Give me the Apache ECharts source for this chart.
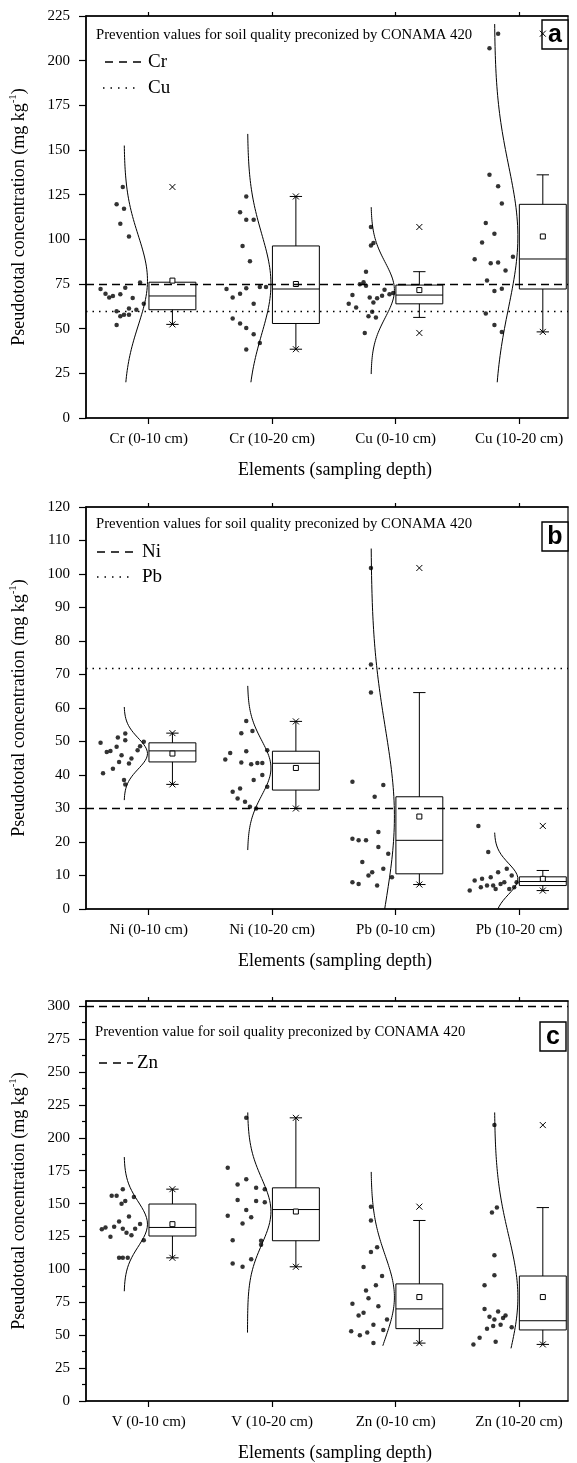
<!DOCTYPE html>
<html>
<head>
<meta charset="utf-8">
<title>Pseudototal concentrations</title>
<script src="https://cdn.jsdelivr.net/npm/echarts@6.0.0/dist/echarts.min.js"></script>
<style>
html, body { margin: 0; padding: 0; background: #fff; }
#chart { width: 577px; height: 1463px; }
</style>
</head>
<body>
<div id="chart"></div>
<script>
// categories
const catsA = ["Cr (0-10 cm)", "Cr (10-20 cm)", "Cu (0-10 cm)", "Cu (10-20 cm)"];
const catsB = ["Ni (0-10 cm)", "Ni (10-20 cm)", "Pb (0-10 cm)", "Pb (10-20 cm)"];
const catsC = ["V (0-10 cm)", "V (10-20 cm)", "Zn (0-10 cm)", "Zn (10-20 cm)"];

// y tick labels
const ticksA = [0, 25, 50, 75, 100, 125, 150, 175, 200, 225];
const ticksB = [0, 10, 20, 30, 40, 50, 60, 70, 80, 90, 100, 110, 120];
const ticksC = [0, 25, 50, 75, 100, 125, 150, 175, 200, 225, 250, 275, 300];
const minorC = [12.5, 37.5, 62.5, 87.5, 112.5, 137.5, 162.5, 187.5, 212.5, 237.5, 262.5, 287.5];

// samples (mg/kg), one list per group
const valsA = [
	[129.3, 119.6, 117.1, 108.7, 101.6, 72.2, 69.6, 67.5, 68.3, 69.2, 72.9, 67.1, 75.9, 63.9, 59.8, 60.6, 61.3, 57.0, 57.8, 57.8, 52.0],
	[124.0, 115.1, 111.0, 111.0, 96.3, 87.8, 72.2, 67.5, 69.6, 72.6, 73.3, 73.3, 63.9, 55.7, 52.9, 50.4, 46.9, 42.0, 38.3],
	[106.9, 97.9, 96.5, 81.9, 76.0, 74.8, 74.0, 68.8, 63.9, 61.9, 67.5, 64.7, 67.0, 68.4, 71.8, 69.2, 69.9, 57.0, 59.4, 56.3, 47.6],
	[215.1, 206.9, 136.1, 129.7, 120.1, 109.1, 103.1, 98.2, 88.9, 86.6, 87.0, 90.3, 82.5, 76.9, 71.1, 72.4, 58.5, 52.0, 48.2]
];
// horizontal jitter of the dots (category units, relative to the tick)
const jitA = [
	[-0.21, -0.26, -0.20, -0.23, -0.16, -0.39, -0.35, -0.32, -0.29, -0.23, -0.19, -0.13, -0.07, -0.04, -0.26, -0.10, -0.16, -0.23, -0.20, -0.16, -0.26],
	[-0.21, -0.26, -0.21, -0.15, -0.24, -0.18, -0.37, -0.32, -0.26, -0.21, -0.10, -0.05, -0.15, -0.32, -0.26, -0.21, -0.15, -0.10, -0.21],
	[-0.20, -0.18, -0.20, -0.24, -0.26, -0.29, -0.24, -0.35, -0.38, -0.32, -0.21, -0.18, -0.15, -0.11, -0.09, -0.05, -0.02, -0.22, -0.19, -0.16, -0.25],
	[-0.17, -0.24, -0.24, -0.17, -0.14, -0.27, -0.20, -0.30, -0.36, -0.23, -0.17, -0.05, -0.11, -0.26, -0.20, -0.14, -0.27, -0.20, -0.14]
];
// q1, median, q3, mean, lower whisker, upper whisker, lower x mark, upper x mark
const boxA = [
	[60.6, 68.3, 76.0, 76.9, 52.4, 76.0, 52.4, 129.3],
	[52.9, 72.2, 96.3, 75.0, 38.5, 124.0, 38.5, 124.0],
	[63.9, 68.8, 74.4, 71.6, 56.3, 81.9, 47.6, 106.9],
	[72.2, 89.0, 119.6, 101.6, 48.2, 136.1, 48.2, 215.1]
];
// normal curve: mean, sd, from, to
const curveA = [[77, 25.2, 20, 152.5], [75, 28, 20, 159], [71.6, 15.5, 24.6, 118], [101.6, 39.6, 20, 220.5]];
const refA = [75, 60]; // Cr, Cu

const valsB = [
	[52.4, 51.2, 50.4, 49.9, 49.6, 48.6, 48.4, 47.4, 47.2, 46.9, 45.9, 44.9, 43.9, 43.4, 41.9, 40.5, 38.5, 37.2],
	[56.1, 53.1, 52.5, 47.4, 47.1, 46.6, 44.6, 43.7, 43.6, 43.6, 43.2, 40.0, 38.5, 36.5, 36.0, 35.0, 33.0, 32.0, 30.5, 30.0],
	[101.8, 73.0, 64.6, 38.0, 37.0, 33.5, 23.0, 21.0, 20.5, 20.5, 18.5, 16.5, 14.0, 12.0, 11.0, 10.0, 9.5, 8.0, 7.5, 7.0],
	[24.8, 17.0, 12.0, 11.0, 10.0, 9.5, 9.0, 8.5, 8.0, 8.0, 7.5, 7.0, 7.0, 6.5, 6.5, 6.0, 6.0, 5.5]
];
const jitB = [
	[-0.19, -0.25, -0.19, -0.04, -0.39, -0.07, -0.26, -0.09, -0.31, -0.34, -0.22, -0.14, -0.24, -0.16, -0.29, -0.37, -0.20, -0.19],
	[-0.21, -0.16, -0.25, -0.04, -0.21, -0.34, -0.38, -0.25, -0.12, -0.08, -0.17, -0.08, -0.15, -0.04, -0.26, -0.32, -0.28, -0.22, -0.18, -0.13],
	[-0.20, -0.20, -0.20, -0.35, -0.10, -0.17, -0.14, -0.35, -0.30, -0.24, -0.14, -0.06, -0.27, -0.10, -0.19, -0.22, -0.03, -0.35, -0.30, -0.15],
	[-0.33, -0.25, -0.10, -0.17, -0.06, -0.23, -0.30, -0.36, -0.12, -0.02, -0.15, -0.26, -0.21, -0.31, -0.04, -0.19, -0.08, -0.40]
];
const boxB = [
	[43.9, 47.2, 49.6, 46.4, 37.2, 52.5, 37.2, 52.5],
	[35.5, 43.5, 47.1, 42.1, 30.0, 56.0, 30.0, 56.0],
	[10.5, 20.5, 33.5, 27.6, 7.3, 64.6, 7.3, 101.8],
	[7.0, 8.2, 9.6, 9.0, 5.5, 11.5, 5.5, 24.8]
];
const curveB = [[46.4, 4.6, 32.5, 60.3], [42.1, 8.2, 17.6, 66.6], [27.6, 26.7, 0, 107.6], [9.0, 4.6, 0, 22.8]];
const refB = [30, 72]; // Ni, Pb

const valsC = [
	[156.0, 156.0, 161.0, 155.0, 152.0, 150.0, 140.2, 136.4, 131.9, 130.6, 132.4, 130.9, 127.9, 125.9, 130.9, 134.6, 124.9, 122.1, 108.8, 108.8, 108.8],
	[215.2, 177.3, 164.5, 168.5, 162.0, 161.0, 152.7, 152.0, 151.0, 145.2, 140.7, 139.7, 134.9, 122.1, 121.8, 118.8, 104.5, 102.0, 107.8],
	[147.7, 137.2, 116.9, 113.3, 101.8, 95, 88, 84, 78, 74, 72, 67, 65, 62, 58, 54, 53, 52, 50, 44],
	[209.7, 147.0, 143.2, 110.8, 95.5, 88, 70, 68, 65, 64, 63, 62, 58, 57, 56, 55, 48, 45, 43]
];
const jitC = [
	[-0.30, -0.26, -0.21, -0.12, -0.19, -0.22, -0.16, -0.24, -0.35, -0.38, -0.28, -0.21, -0.18, -0.14, -0.11, -0.07, -0.31, -0.04, -0.24, -0.21, -0.17],
	[-0.21, -0.36, -0.28, -0.21, -0.13, -0.06, -0.28, -0.13, -0.06, -0.21, -0.36, -0.17, -0.24, -0.32, -0.09, -0.09, -0.32, -0.24, -0.17],
	[-0.20, -0.20, -0.15, -0.20, -0.26, -0.11, -0.16, -0.24, -0.22, -0.35, -0.14, -0.26, -0.30, -0.07, -0.18, -0.10, -0.36, -0.23, -0.29, -0.18],
	[-0.20, -0.18, -0.22, -0.20, -0.20, -0.28, -0.28, -0.17, -0.11, -0.24, -0.13, -0.20, -0.15, -0.21, -0.06, -0.26, -0.32, -0.19, -0.37]
];
const boxC = [
	[125.4, 131.9, 149.7, 134.4, 108.8, 161.0, 108.8, 161.0],
	[121.8, 145.5, 162.0, 144.0, 102.0, 215.2, 102.0, 215.2],
	[55, 70, 89, 79, 44, 137.2, 44, 147.7],
	[54, 61, 95, 79, 43, 147.0, 43, 209.7]
];
const curveC = [[134.4, 17, 83.4, 185.4], [144, 25.1, 52, 219.3], [79, 31.7, 42, 174.1], [79, 46.8, 40, 219.3]];
const refC = [300]; // Zn

const serif = "'Liberation Serif', 'Times New Roman', serif";
const sans = "'Liberation Sans', Arial, sans-serif";
const xMin = -0.508, xMax = 3.396;
const boxShift = 0.192, boxHalf = 0.19, capHalf = 0.05;
const curveBase = -0.2, curveAmp = 0.19;

const panels = [
	{ cats: catsA, ticks: ticksA, max: 225, vals: valsA, jit: jitA, box: boxA, curve: curveA, refs: refA, refTypes: [[8, 5], [1.5, 5]], top: 16, height: 402 },
	{ cats: catsB, ticks: ticksB, max: 120, vals: valsB, jit: jitB, box: boxB, curve: curveB, refs: refB, refTypes: [[8, 5], [1.5, 5]], top: 507, height: 402 },
	{ cats: catsC, ticks: ticksC, max: 304, vals: valsC, jit: jitC, box: boxC, curve: curveC, refs: refC, refTypes: [[8, 5]], top: 1001, height: 403.5, minor: minorC }
];

function curvePoints(i, c) {
	const mu = c[0], sd = c[1], lo = c[2], hi = c[3];
	const pts = [];
	for (let k = 0; k <= 80; k++) {
		const v = lo + (hi - lo) * k / 80;
		const z = (v - mu) / sd;
		pts.push([i + curveBase + curveAmp * Math.exp(-z * z / 2), v]);
	}
	return pts;
}

function renderBox(params, api) {
	const c = api.value(0) + boxShift;
	const q1 = api.value(1), med = api.value(2), q3 = api.value(3), mean = api.value(4);
	const wLo = api.value(5), wHi = api.value(6), oLo = api.value(7), oHi = api.value(8);
	const pA = api.coord([c - boxHalf, q3]);
	const pB = api.coord([c + boxHalf, q1]);
	const cx = api.coord([c, 0])[0];
	const cap = api.size([capHalf, 0])[0];
	const y = v => api.coord([c, v])[1];
	const st = { stroke: "#000", lineWidth: 1, fill: null };
	const ln = (x1, y1, x2, y2) => ({ type: "line", shape: { x1, y1, x2, y2 }, style: st });
	const kids = [
		{ type: "rect", shape: { x: pA[0], y: pA[1], width: pB[0] - pA[0], height: pB[1] - pA[1] }, style: { stroke: "#000", lineWidth: 1, fill: null } },
		ln(pA[0], y(med), pB[0], y(med))
	];
	if (wHi > q3) {
		kids.push(ln(cx, y(q3), cx, y(wHi)), ln(cx - cap, y(wHi), cx + cap, y(wHi)));
	}
	if (wLo < q1) {
		kids.push(ln(cx, y(q1), cx, y(wLo)), ln(cx - cap, y(wLo), cx + cap, y(wLo)));
	}
	[oLo, oHi].forEach(v => {
		const yy = y(v), s = 3;
		kids.push(ln(cx - s, yy - s, cx + s, yy + s), ln(cx - s, yy + s, cx + s, yy - s));
	});
	kids.push({ type: "rect", shape: { x: cx - 2.5, y: y(mean) - 2.5, width: 5, height: 5 }, style: { stroke: "#000", lineWidth: 1, fill: "#fff" } });
	return { type: "group", children: kids };
}

const grid = [], xAxis = [], yAxis = [], series = [];
panels.forEach((p, k) => {
	grid.push({ left: 86, right: 9, top: p.top, height: p.height, show: true, borderColor: "#000", borderWidth: 1.2, backgroundColor: "transparent" });
	const xb = xAxis.length;
	xAxis.push({
		type: "value", gridIndex: k, min: xMin, max: xMax, position: "bottom",
		name: "Elements (sampling depth)", nameLocation: "middle", nameGap: 43,
		nameTextStyle: { fontFamily: serif, fontSize: 18, color: "#000", padding: [0, 0, 0, 16] },
		axisLine: { onZero: false, lineStyle: { color: "#000", width: 1.5 } },
		axisTick: { customValues: [0, 1, 2, 3], length: 6, lineStyle: { color: "#000", width: 1.2 } },
		axisLabel: { customValues: [0, 1, 2, 3], formatter: v => p.cats[Math.round(v)], fontFamily: serif, fontSize: 15, color: "#000", margin: 14 },
		splitLine: { show: false }
	});
	xAxis.push({
		type: "value", gridIndex: k, min: xMin, max: xMax, position: "top",
		axisLine: { onZero: false, lineStyle: { color: "#000", width: 1.5 } },
		axisTick: { customValues: [0, 1, 2, 3], length: 4, lineStyle: { color: "#000", width: 1.2 } },
		axisLabel: { show: false }, splitLine: { show: false }
	});
	const yb = yAxis.length;
	yAxis.push({
		type: "value", gridIndex: k, min: 0, max: p.max, position: "left",
		name: "{n|Pseudototal concentration (mg kg}{s|-1}{n|)}", nameLocation: "middle", nameGap: 56,
		nameTextStyle: {
			color: "#000",
			rich: {
				n: { fontFamily: serif, fontSize: 18, color: "#000", lineHeight: 22 },
				s: { fontFamily: serif, fontSize: 11, color: "#000", lineHeight: 12, verticalAlign: "top" }
			}
		},
		axisLine: { show: true, onZero: false, lineStyle: { color: "#000", width: 1.5 } },
		axisTick: { customValues: p.ticks, length: 7, lineStyle: { color: "#000", width: 1.2 } },
		axisLabel: { customValues: p.ticks, fontFamily: serif, fontSize: 15, color: "#000", margin: 16 },
		splitLine: { show: false }
	});
	if (p.minor) {
		yAxis.push({
			type: "value", gridIndex: k, min: 0, max: p.max, position: "left",
			axisLine: { show: false, onZero: false },
			axisTick: { customValues: p.minor, length: 4, lineStyle: { color: "#000", width: 1.2 } },
			axisLabel: { show: false }, splitLine: { show: false }
		});
	}

	p.curve.forEach((c, i) => {
		series.push({
			type: "line", xAxisIndex: xb, yAxisIndex: yb, data: curvePoints(i, c),
			showSymbol: false, symbol: "none", silent: true, clip: true,
			lineStyle: { color: "#000", width: 1 }, z: 2
		});
	});

	const pts = [];
	p.vals.forEach((arr, i) => arr.forEach((v, j) => pts.push([i + p.jit[i][j], v])));
	series.push({
		type: "scatter", xAxisIndex: xb, yAxisIndex: yb, data: pts, symbol: "circle", symbolSize: 4.5,
		itemStyle: { color: "#000" }, silent: true, z: 3,
		markLine: {
			silent: true, symbol: ["none", "none"], label: { show: false },
			data: p.refs.map((v, i) => ({ yAxis: v, lineStyle: { color: "#000", width: 1.4, type: p.refTypes[i] } }))
		}
	});

	series.push({
		type: "custom", xAxisIndex: xb, yAxisIndex: yb, renderItem: renderBox,
		data: p.box.map((b, i) => [i].concat(b)), silent: true, z: 4, clip: false
	});
});

// legend texts and panel letters
const graphic = [];
function txt(x, y, text, size, family, weight) {
	graphic.push({ type: "text", x: x, y: y, silent: true, style: { text: text, fontSize: size, fontFamily: family, fontWeight: weight || "normal", fill: "#000", verticalAlign: "middle" } });
}
function key(x1, x2, y, dash) {
	graphic.push({ type: "line", silent: true, shape: { x1: x1, y1: y, x2: x2, y2: y }, style: { stroke: "#000", lineWidth: 1.4, lineDash: dash } });
}
function badge(x, y, letter) {
	graphic.push({ type: "rect", silent: true, shape: { x: x, y: y, width: 26, height: 29 }, style: { fill: "#fff", stroke: "#000", lineWidth: 1.4 } });
	graphic.push({ type: "text", silent: true, x: x + 13, y: y + 15, style: { text: letter, fontSize: 25, fontFamily: sans, fontWeight: "bold", fill: "#000", align: "center", verticalAlign: "middle" } });
}
txt(96, 35, "Prevention values for soil quality preconized by CONAMA 420", 14.7, serif);
key(105, 142, 62, [8, 6]); txt(148, 62, "Cr", 19, serif);
key(103, 139, 88, [1.5, 6]); txt(148, 88, "Cu", 19, serif);
badge(542, 20, "a");

txt(96, 524, "Prevention values for soil quality preconized by CONAMA 420", 14.7, serif);
key(97, 133, 552, [8, 6]); txt(142, 552, "Ni", 19, serif);
key(97, 133, 577, [1.5, 6]); txt(142, 577, "Pb", 19, serif);
badge(542, 522, "b");

txt(95, 1032, "Prevention value for soil quality preconized by CONAMA 420", 14.7, serif);
key(99, 133, 1063, [8, 6]); txt(137, 1063, "Zn", 19, serif);
badge(540, 1022, "c");

const chart = echarts.init(document.getElementById("chart"), null, { renderer: "canvas" });
chart.setOption({
	animation: false,
	backgroundColor: "#fff",
	grid: grid,
	xAxis: xAxis,
	yAxis: yAxis,
	series: series,
	graphic: graphic
});
</script>
</body>
</html>
